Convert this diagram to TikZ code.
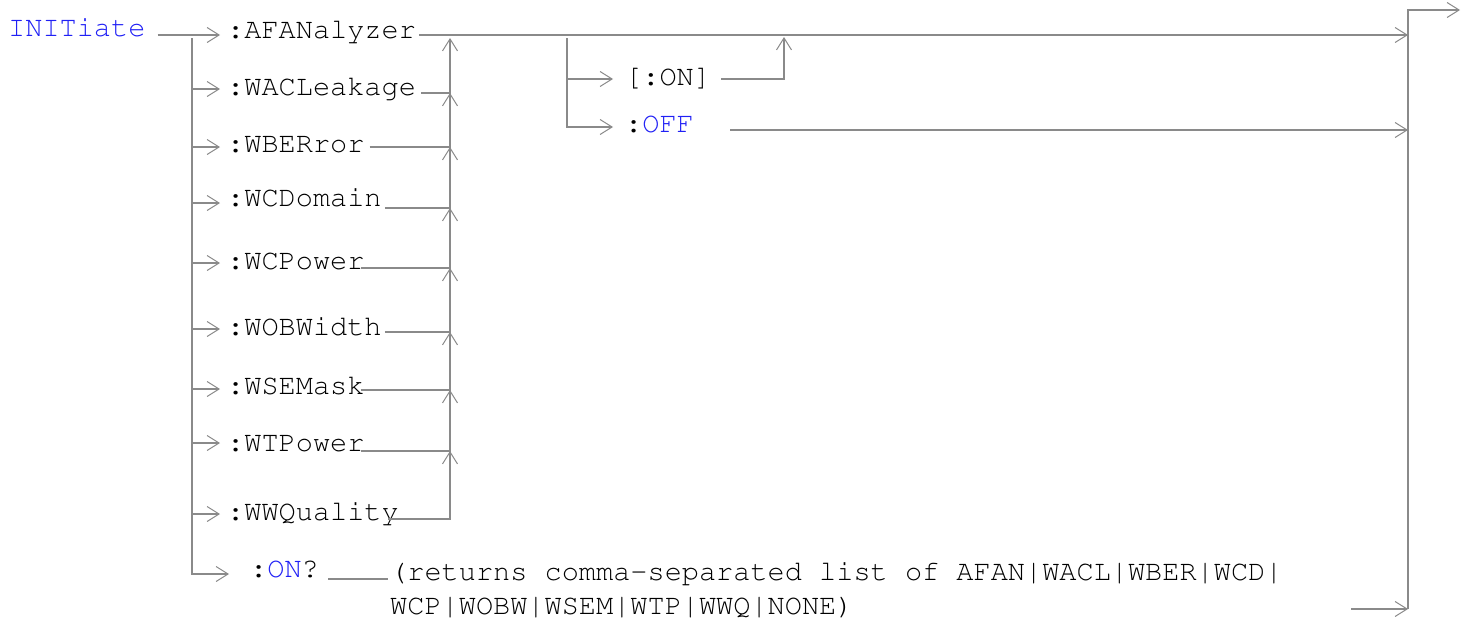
\documentclass[tikz,border=0pt]{standalone}
\usepackage[T1]{fontenc}
\usepackage{courier}
\usetikzlibrary{arrows.meta,calc}
\definecolor{railgray}{RGB}{138,138,138}
\definecolor{kwblue}{RGB}{32,32,245}

\begin{document}
\begin{tikzpicture}[x=1pt, y=1pt,
  rail/.style={draw=railgray, line width=1.4pt},
  railarrow/.style={rail, -{Straight Barb[length=12pt, width=15pt, line width=1pt]}},
  kw/.style={anchor=base west, inner sep=0pt, font=\fontsize{28.6}{34}\selectfont\ttfamily}]
\useasboundingbox (0,0) rectangle (1468,-624);

% Keyword and subsystems
\node[kw, text=kwblue] (init) at (8,-36) {INITiate};
\node[kw] (afan) at (227,-38) {:AFANalyzer};
\node[kw] (wacl) at (227,-95) {:WACLeakage};
\node[kw] (wber) at (227,-152) {:WBERror};
\node[kw] (wcd) at (227,-206) {:WCDomain};
\node[kw] (wcp) at (227,-269) {:WCPower};
\node[kw] (wobw) at (227,-335) {:WOBWidth};
\node[kw] (wsem) at (227,-394) {:WSEMask};
\node[kw] (wtp) at (227,-451) {:WTPower};
\node[kw] (wwq) at (227,-520) {:WWQuality};
\node[kw] (onq) at (250,-577) {:\textcolor{kwblue}{ON}?};
\node[kw] (list1) at (390,-580) {(returns comma-separated list of AFAN|WACL|WBER|WCD|};
\node[kw] (list2) at (390,-614) {WCP|WOBW|WSEM|WTP|WWQ|NONE)};

% On/off choices
\node[kw] (onopt) at (625,-85) {[:ON]};
\node[kw] (offopt) at (625,-132) {:\textcolor{kwblue}{OFF}};

% Junctions
\coordinate (trunk) at (192,-38);
\coordinate (joinx) at (450,0);
\coordinate (fork) at (567,-38);
\coordinate (onjoin) at (784,-37);
\coordinate (bus) at (1408,0);
\coordinate (bustop) at (1408,-10);
\coordinate (busbot) at (1408,-609);
\coordinate (exit) at (1460,-10);
\coordinate (listR) at (1351,-609);

% Line ends after each subsystem
\coordinate (afanR) at ([shift={(3,3)}]afan.base east);
\coordinate (waclR) at ([shift={(5,2)}]wacl.base east);
\coordinate (wberR) at ([shift={(5,5)}]wber.base east);
\coordinate (wcdR) at ([shift={(3,-2)}]wcd.base east);
\coordinate (wcpR) at ([shift={(-4,1)}]wcp.base east);
\coordinate (wobwR) at ([shift={(3,3)}]wobw.base east);
\coordinate (wsemR) at ([shift={(-4,4)}]wsem.base east);
\coordinate (wtpR) at ([shift={(-4,0)}]wtp.base east);
\coordinate (wwqR) at ([shift={(-11,1)}]wwq.base east);
\coordinate (offR) at ([shift={(36,2)}]offopt.base east);

% Into the subsystems
\draw[rail] ([shift={(12,1)}]init.base east) -- (trunk |- afanR);
\draw[railarrow] (trunk |- afanR) -- ([shift={(-7,3)}]afan.base west);
\draw[railarrow] (trunk) |- ([shift={(-7,6)}]wacl.base west);
\draw[railarrow] (trunk) |- ([shift={(-7,5)}]wber.base west);
\draw[railarrow] (trunk) |- ([shift={(-7,3)}]wcd.base west);
\draw[railarrow] (trunk) |- ([shift={(-7,6)}]wcp.base west);
\draw[railarrow] (trunk) |- ([shift={(-7,6)}]wobw.base west);
\draw[railarrow] (trunk) |- ([shift={(-7,5)}]wsem.base west);
\draw[railarrow] (trunk) |- ([shift={(-7,8)}]wtp.base west);
\draw[railarrow] (trunk) |- ([shift={(-7,6)}]wwq.base west);
\draw[railarrow] (trunk) |- ([shift={(-21,3)}]onq.base west);

% Back up to the main line
\draw[railarrow] (waclR) -| ($(joinx |- afanR)+(0,-3)$);
\draw[railarrow] (wberR) -| (joinx |- waclR);
\draw[railarrow] (wcdR) -| (joinx |- wberR);
\draw[railarrow] (wcpR) -| (joinx |- wcdR);
\draw[railarrow] (wobwR) -| (joinx |- wcpR);
\draw[railarrow] (wsemR) -| (joinx |- wobwR);
\draw[railarrow] (wtpR) -| (joinx |- wsemR);
\draw[railarrow] (wwqR) -| (joinx |- wtpR);
\draw[railarrow] (afanR) -- (bus |- afanR);

% ON / OFF
\draw[railarrow] (fork) |- ([shift={(-12,6)}]onopt.base west);
\draw[railarrow] (fork) |- ([shift={(-12,5)}]offopt.base west);
\draw[railarrow] ([shift={(10,6)}]onopt.base east) -| (onjoin);
\draw[railarrow] (offR) -- (bus |- offR);

% Query
\draw[rail] ([shift={(9,-2)}]onq.base east) -- ([shift={(-2,1)}]list1.base west);
\draw[railarrow] (listR) -- (busbot);

% Right bus
\draw[railarrow] (busbot) -- (bustop) -- (exit);
\end{tikzpicture}
\end{document}
